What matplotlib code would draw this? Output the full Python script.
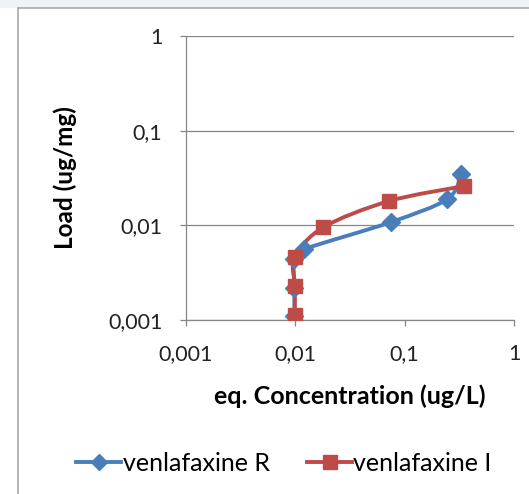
import numpy as np
import matplotlib.pyplot as plt
from matplotlib.path import Path
from matplotlib.patches import PathPatch, Rectangle
from matplotlib.lines import Line2D
from matplotlib.ticker import FixedLocator, FixedFormatter, NullLocator

plt.rcParams['font.family'] = ['Lato', 'DejaVu Sans']

# isotherm data, eq. concentration (ug/L) vs load (ug/mg)
conc_R = [0.0098, 0.0098, 0.0098, 0.0121, 0.0746, 0.246, 0.33]
load_R = [0.0011, 0.0022, 0.0044, 0.0056, 0.0108, 0.019, 0.035]
conc_I = [0.0099, 0.0099, 0.0099, 0.018, 0.0716, 0.35]
load_I = [0.00113, 0.0023, 0.0046, 0.0095, 0.018, 0.026]

ticks = [0.001, 0.01, 0.1, 1]
tick_labels = ['0,001', '0,01', '0,1', '1']

blue = '#4a7ebb'
red = '#be4b48'
axis_grey = '#868686'


def smooth_path(xs, ys):
    # cubic bezier through the points, built in log space (Excel style smoothing)
    lx = np.log10(xs) * 110.0
    ly = np.log10(ys) * 94.0
    pts = np.column_stack([lx, ly])
    n = len(pts)
    verts = [pts[0]]
    codes = [Path.MOVETO]
    for i in range(n - 1):
        p0 = pts[max(i - 1, 0)]
        p1 = pts[i]
        p2 = pts[i + 1]
        p3 = pts[min(i + 2, n - 1)]
        c1 = p1 + (p2 - p0) / 6.0
        c2 = p2 - (p3 - p1) / 6.0
        verts += [c1, c2, p2]
        codes += [Path.CURVE4] * 3
    verts = np.array(verts)
    verts = np.column_stack([10 ** (verts[:, 0] / 110.0), 10 ** (verts[:, 1] / 94.0)])
    return Path(verts, codes)


fig = plt.figure(figsize=(5.29, 4.94), dpi=100)
fig.patch.set_facecolor('white')

# frame of the chart area
fig.add_artist(Rectangle((0, 1 - 8 / 494), 1, 8 / 494, transform=fig.transFigure,
                         facecolor='#eef3f8', edgecolor='none'))
fig.add_artist(Line2D([18 / 529, 18 / 529], [0, 1 - 8 / 494], transform=fig.transFigure,
                      color='#a8a8a8', lw=1.2))
fig.add_artist(Line2D([18 / 529, 1], [1 - 8 / 494, 1 - 8 / 494], transform=fig.transFigure,
                      color='#a8a8a8', lw=1.2))

ax = fig.add_axes([186 / 529, 1 - 320 / 494, 328 / 529, 284 / 494])
ax.set_xscale('log')
ax.set_yscale('log')
ax.set_xlim(0.001, 1)
ax.set_ylim(0.001, 1)

for xs, ys, col, mk, ms, name in [(conc_R, load_R, blue, 'D', 9.5, 'venlafaxine R'),
                                   (conc_I, load_I, red, 's', 10.5, 'venlafaxine I')]:
    ax.add_patch(PathPatch(smooth_path(xs, ys), fill=False, edgecolor=col, lw=2.8,
                           zorder=3, capstyle='round'))
    ax.plot(xs, ys, linestyle='none', marker=mk, markersize=ms, color=col,
            markeredgecolor=col, zorder=4, label=name)

ax.xaxis.set_major_locator(FixedLocator(ticks))
ax.xaxis.set_major_formatter(FixedFormatter(tick_labels))
ax.yaxis.set_major_locator(FixedLocator(ticks))
ax.yaxis.set_major_formatter(FixedFormatter(tick_labels))
ax.xaxis.set_minor_locator(NullLocator())
ax.yaxis.set_minor_locator(NullLocator())

ax.grid(axis='y', color=axis_grey, lw=0.9)
ax.set_axisbelow(True)
for side in ['top', 'right']:
    ax.spines[side].set_visible(False)
for side in ['left', 'bottom']:
    ax.spines[side].set_color(axis_grey)
    ax.spines[side].set_linewidth(0.9)
ax.tick_params(axis='both', direction='out', length=4, width=0.9, color=axis_grey,
               labelsize=15.5, labelcolor='#222222')
ax.tick_params(axis='y', pad=13)
ax.tick_params(axis='x', pad=13)

ax.set_xlabel('eq. Concentration (ug/L)', fontsize=18, fontweight='bold', labelpad=15)
ax.set_ylabel('Load (ug/mg)', fontsize=17.5, fontweight='bold', labelpad=22)

leg_handles = [
    Line2D([], [], color=blue, lw=2.8, marker='D', markersize=8.5),
    Line2D([], [], color=red, lw=2.8, marker='s', markersize=10),
]
fig.legend(leg_handles, ['venlafaxine R', 'venlafaxine I'], loc='center',
           bbox_to_anchor=(0.537, 1 - 463 / 494), ncol=2, frameon=False,
           fontsize=18, handlelength=1.8, handletextpad=0.05, columnspacing=1.5)

fig.savefig('out.png', dpi=100)
